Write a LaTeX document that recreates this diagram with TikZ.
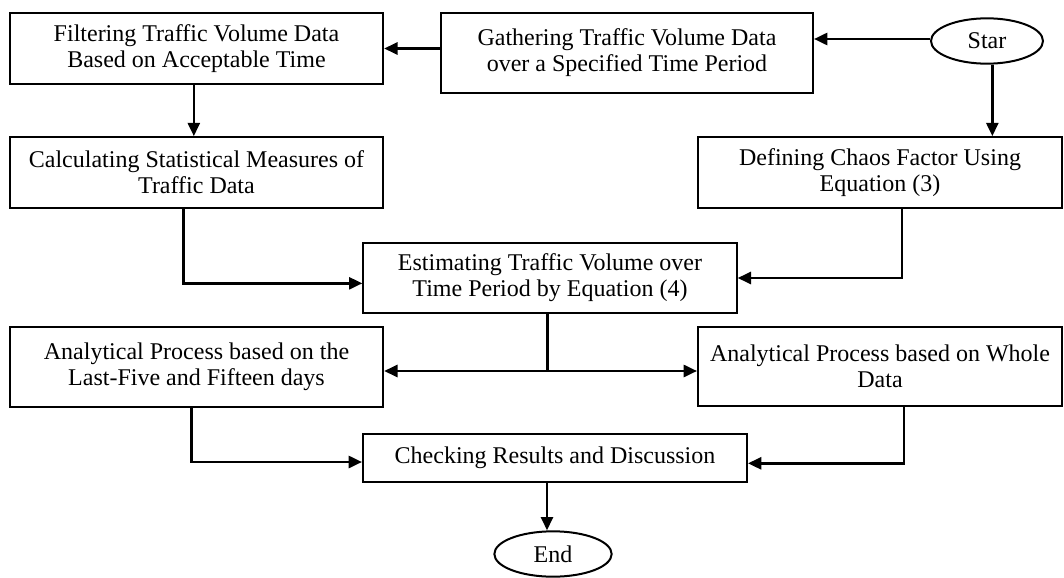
\documentclass[tikz,border=0pt]{standalone}
\usepackage{fontspec}
\setmainfont{Liberation Serif}
\usetikzlibrary{shapes.geometric,arrows.meta}

\begin{document}
\begin{tikzpicture}[x=0.75pt,y=-0.75pt,
    procbox/.style={draw,line width=1.5pt,rectangle,align=center,inner sep=2pt,
                    font=\fontsize{18}{19.5}\selectfont},
    oval/.style={draw,line width=1.5pt,ellipse,inner sep=0pt,
                 font=\fontsize{18}{19.5}\selectfont},
    conn/.style={line width=2pt,-{Triangle[length=10pt,width=9pt]}},
    plain/.style={line width=2pt}]
  \useasboundingbox (0,0) rectangle (1064,578);

% top row
  \node[procbox,minimum width=280pt,minimum height=53pt] (filter) at (196.5,48.5)
       {Filtering Traffic Volume Data\\Based on Acceptable Time};
  \node[procbox,minimum width=279pt,minimum height=60pt] (gather) at (627,52.5)
       {Gathering Traffic Volume Data\\over a Specified Time Period};
  \node[oval,minimum width=84pt,minimum height=34pt] (star) at (987,41) {Star};

% second row
  \node[procbox,minimum width=280pt,minimum height=53pt] (calc) at (196.5,172.5)
       {Calculating Statistical Measures of\\Traffic Data};
  \node[procbox,minimum width=273pt,minimum height=53pt] (defin) at (880,172.5)
       {Defining Chaos Factor Using\\Equation (3)};

% estimation
  \node[procbox,minimum width=280pt,minimum height=52pt] (estim) at (550,278)
       {Estimating Traffic Volume over\\Time Period by Equation (4)};

% analysis
  \node[procbox,minimum width=280pt,minimum height=60pt] (anlast) at (196.5,367)
       {Analytical Process based on the\\Last-Five and Fifteen days};
  \node[procbox,minimum width=273pt,minimum height=59pt] (anwhole) at (880,366.5)
       {Analytical Process based on Whole\\Data};

% results and end
  \node[procbox,minimum width=288pt,minimum height=36pt] (check) at (555,458)
       {Checking Results and Discussion};
  \node[oval,minimum width=88pt,minimum height=34pt] (endn) at (553,554) {End};

% connectors
  \draw[conn] (star.west |- 0,39) -- (gather.east |- 0,39);
  \draw[conn] (gather.west |- filter.east) -- (filter.east);
  \draw[conn] ([xshift=-2pt]filter.south) -- ([xshift=-2pt]calc.north);
  \draw[conn] ([xshift=4pt]star.south) -- ([xshift=4pt]star.south |- defin.north);
  \draw[conn] ([xshift=-10pt]calc.south) |- ([yshift=-4pt]estim.west);
  \draw[conn] ([xshift=16.5pt]defin.south) |- (estim.east);
  \coordinate (split) at ([xshift=-2pt]estim.south |- 0,371);
  \draw[plain] ([xshift=-2pt]estim.south) -- (split);
  \draw[conn] (split) -- (split -| anlast.east);
  \draw[conn] (split) -- (split -| anwhole.west);
  \draw[conn] ([xshift=-4pt]anlast.south) |- ([yshift=-3pt]check.west);
  \draw[conn] ([xshift=18pt]anwhole.south) |- ([yshift=-4pt]check.east);
  \draw[conn] ([xshift=-6pt]check.south) -- ([xshift=-6pt]check.south |- endn.north);
\end{tikzpicture}
\end{document}
